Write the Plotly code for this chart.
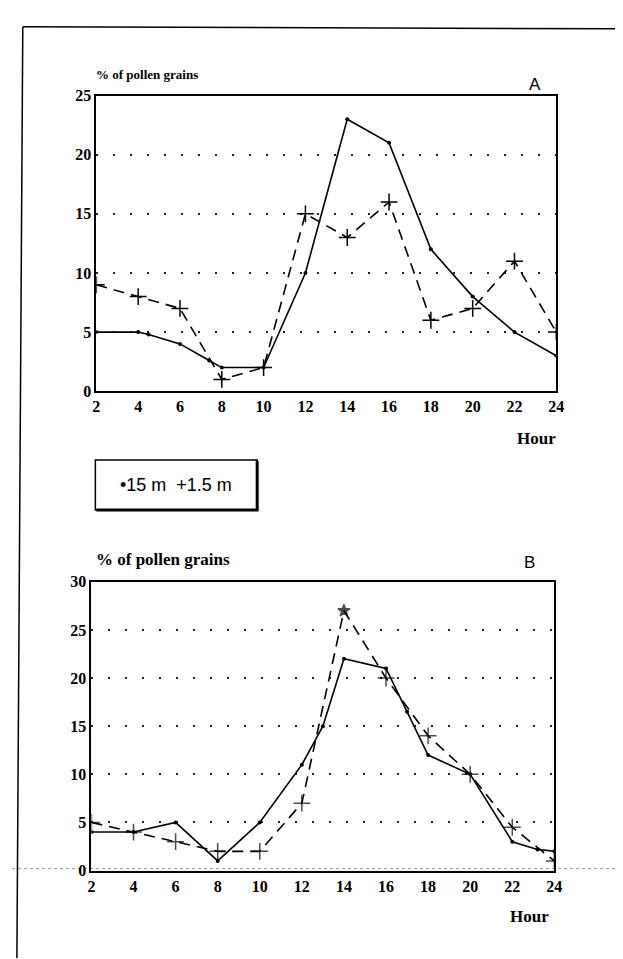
import plotly.graph_objects as go

# ---- data ----
hours = [2, 4, 6, 8, 10, 12, 14, 16, 18, 20, 22, 24]
tick_hours = [2, 4, 6, 8, 10, 12, 14, 16, 18, 20, 22, 24]

# Chart A
a_15m_hours = [2, 4, 4.5, 6, 7.4, 8, 10, 12, 14, 16, 18, 20, 22, 24]
a_15m = [5, 5, 4.8, 4, 2.6, 2, 2, 10, 23, 21, 12, 8, 5, 3]
a_1_5m = [9, 8, 7, 1, 2, 15, 13, 16, 6, 7, 11, 5]

# Chart B
b_15m_hours = [2, 4, 6, 8, 10, 12, 13, 14, 16, 17, 18, 20, 22, 23.2, 24]
b_15m = [4, 4, 5, 1, 5, 11, 15, 22, 21, 16.5, 12, 10, 3, 2.2, 2]
b_1_5m = [5, 4, 3, 2, 2, 7, 27, 20, 14, 10, 4.5, 1]
b_1_5m_symbols = ["cross-thin"] * 6 + ["star"] + ["cross-thin"] * 5
b_1_5m_sizes = [12] * 6 + [9] + [12] * 5

a_yticks = [0, 5, 10, 15, 20, 25]
b_yticks = [0, 5, 10, 15, 20, 25, 30]

y_title = "% of pollen grains"
x_title = "Hour"
legend_text = "•15 m  +1.5 m"

W, H = 623, 959
def px_x(p): return p / W
def px_y(p): return 1 - p / H

serif = "Liberation Serif, Times New Roman, serif"
sans = "Liberation Sans, Arial, sans-serif"

fig = go.Figure()

solid_line = dict(color="black", width=1.6)
dash_line = dict(color="black", width=1.6, dash="11px,7px")

fig.add_trace(go.Scatter(x=a_15m_hours, y=a_15m, mode="lines+markers",
                         line=solid_line, marker=dict(symbol="circle", size=4, color="black"),
                         xaxis="x", yaxis="y", name="15 m"))
fig.add_trace(go.Scatter(x=hours, y=a_1_5m, mode="lines+markers",
                         line=dash_line,
                         marker=dict(symbol="cross-thin", size=12, color="black",
                                     line=dict(color="black", width=1.5)),
                         xaxis="x", yaxis="y", name="1.5 m"))
fig.add_trace(go.Scatter(x=b_15m_hours, y=b_15m, mode="lines+markers",
                         line=solid_line, marker=dict(symbol="circle", size=4, color="black"),
                         xaxis="x2", yaxis="y2", name="15 m"))
fig.add_trace(go.Scatter(x=hours, y=b_1_5m, mode="lines+markers",
                         line=dash_line,
                         marker=dict(symbol=b_1_5m_symbols, size=b_1_5m_sizes, color="black",
                                     line=dict(color="black", width=1.5)),
                         xaxis="x2", yaxis="y2", name="1.5 m"))

tickfont = dict(family=serif, size=16, color="black", weight="bold")
common_x = dict(range=[2, 24], tickvals=tick_hours, ticks="", showline=True, mirror=True,
                linecolor="black", linewidth=2, showgrid=False, zeroline=False,
                tickfont=tickfont, fixedrange=True)
common_y = dict(ticks="", showline=True, mirror=True, linecolor="black", linewidth=2,
                showgrid=True, gridcolor="#222", gridwidth=1.5, griddash="2px,15px",
                zeroline=False, tickfont=tickfont, fixedrange=True)

fig.update_layout(
    width=W, height=H,
    margin=dict(l=0, r=0, t=0, b=0),
    paper_bgcolor="white", plot_bgcolor="white",
    font=dict(family=serif, color="black"),
    showlegend=False,
    xaxis=dict(domain=[px_x(86), px_x(555)], anchor="y", **common_x),
    yaxis=dict(domain=[px_y(382), px_y(81)], anchor="x", range=[0, 25], tickvals=a_yticks, **common_y),
    xaxis2=dict(domain=[px_x(81), px_x(553)], anchor="y2", **common_x),
    yaxis2=dict(domain=[px_y(870), px_y(576)], anchor="x2", range=[0, 30], tickvals=b_yticks, **common_y),
)

ann = []
ann.append(dict(text="<b>" + y_title + "</b>", x=px_x(84), y=px_y(60), xref="paper", yref="paper",
                xanchor="left", yanchor="middle", showarrow=False,
                font=dict(family=serif, size=13, color="black")))
ann.append(dict(text="<b>" + y_title + "</b>", x=px_x(84), y=px_y(553), xref="paper", yref="paper",
                xanchor="left", yanchor="middle", showarrow=False,
                font=dict(family=serif, size=17, color="black")))
ann.append(dict(text="A", x=px_x(533), y=px_y(70), xref="paper", yref="paper",
                xanchor="center", yanchor="middle", showarrow=False,
                font=dict(family=sans, size=17, color="black")))
ann.append(dict(text="B", x=px_x(528), y=px_y(556), xref="paper", yref="paper",
                xanchor="center", yanchor="middle", showarrow=False,
                font=dict(family=sans, size=17, color="black")))
ann.append(dict(text="<b>" + x_title + "</b>", x=px_x(535), y=px_y(430), xref="paper", yref="paper",
                xanchor="center", yanchor="middle", showarrow=False,
                font=dict(family=serif, size=17, color="black")))
ann.append(dict(text="<b>" + x_title + "</b>", x=px_x(528), y=px_y(917), xref="paper", yref="paper",
                xanchor="center", yanchor="middle", showarrow=False,
                font=dict(family=serif, size=17, color="black")))
ann.append(dict(text=legend_text, x=px_x(167), y=px_y(477), xref="paper", yref="paper",
                xanchor="center", yanchor="middle", showarrow=False,
                font=dict(family=sans, size=18, color="black")))
fig.update_layout(annotations=ann)

shapes = []
# legend box with shadow
shapes.append(dict(type="rect", xref="paper", yref="paper",
                   x0=px_x(85), x1=px_x(250), y0=px_y(503), y1=px_y(452),
                   line=dict(color="black", width=1.5)))
shapes.append(dict(type="line", xref="paper", yref="paper",
                   x0=px_x(250), x1=px_x(250), y0=px_y(504), y1=px_y(453),
                   line=dict(color="black", width=3)))
shapes.append(dict(type="line", xref="paper", yref="paper",
                   x0=px_x(86), x1=px_x(251), y0=px_y(503), y1=px_y(503),
                   line=dict(color="black", width=3)))
# page frame from the scan
shapes.append(dict(type="line", xref="paper", yref="paper",
                   x0=px_x(11), x1=px_x(623), y0=px_y(11), y1=px_y(13),
                   line=dict(color="black", width=1.5)))
shapes.append(dict(type="line", xref="paper", yref="paper",
                   x0=px_x(11), x1=px_x(5), y0=px_y(11), y1=px_y(959),
                   line=dict(color="black", width=1.5)))
shapes.append(dict(type="line", xref="paper", yref="paper",
                   x0=px_x(621), x1=px_x(621), y0=px_y(807), y1=px_y(959),
                   line=dict(color="black", width=1.5)))
shapes.append(dict(type="line", xref="paper", yref="paper",
                   x0=0, x1=1, y0=px_y(868), y1=px_y(868),
                   line=dict(color="#999", width=1, dash="dot"), layer="below"))
fig.update_layout(shapes=shapes)

fig.write_html("out.html")
